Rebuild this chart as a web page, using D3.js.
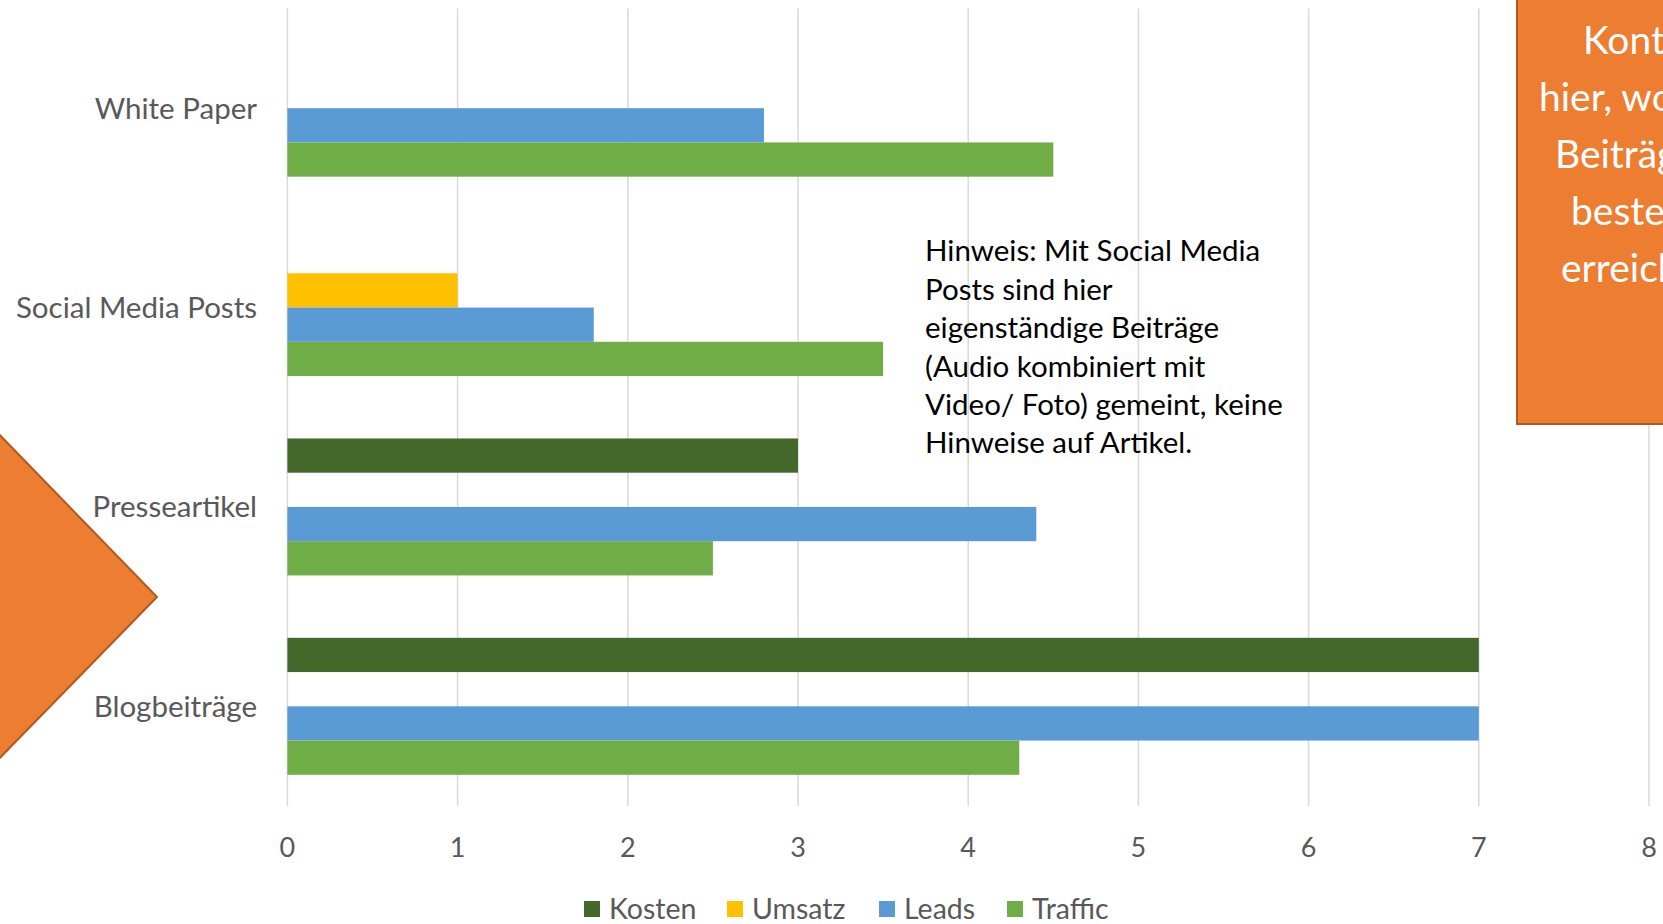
<!DOCTYPE html>
<html><head><meta charset="utf-8">
<script src="https://cdnjs.cloudflare.com/ajax/libs/d3/7.8.5/d3.min.js"></script>
<style>
html,body{margin:0;padding:0;background:#fff;overflow:hidden;}
svg{display:block;font-family:Lato,"Open Sans",sans-serif;}
</style></head>
<body><svg id="c" width="1663" height="924"></svg>
<script>
const categories = ["White Paper", "Social Media Posts", "Presseartikel", "Blogbeiträge"];
const seriesNames = ["Kosten", "Umsatz", "Leads", "Traffic"];
const kosten  = [0, 0, 3, 7];
const umsatz  = [0, 1, 0, 0];
const leads   = [2.8, 1.8, 4.4, 7];
const traffic = [4.5, 3.5, 2.5, 4.3];
const xTicks = [0, 1, 2, 3, 4, 5, 6, 7, 8];
const colors = ["#43682B", "#FFC000", "#5B9BD5", "#70AD47"];
const noteLines = ["Hinweis: Mit Social Media", "Posts sind hier", "eigenständige Beiträge", "(Audio kombiniert mit", "Video/ Foto) gemeint, keine", "Hinweise auf Artikel."];
const boxLines = ["Kontrolle", "hier, wo Ihre", "Beiträge am", "besten", "erreichen"];

const values = [kosten, umsatz, leads, traffic];
const svg = d3.select("#c");

const x = d3.scaleLinear().domain([0, 8]).range([287.4, 1649]);
const y = d3.scaleBand().domain(categories).range([8.5, 806]).paddingInner(0.313).paddingOuter(0.1565);
const yi = d3.scaleBand().domain(seriesNames).range([0, y.bandwidth()]);

// gridlines
svg.append("g").selectAll("line").data(xTicks).join("line")
  .attr("x1", d => x(d)).attr("x2", d => x(d)).attr("y1", 8.5).attr("y2", 806)
  .attr("stroke", "#D9D9D9").attr("stroke-width", 1.5);

// bars
const g = svg.append("g");
categories.forEach((c, ci) => {
  seriesNames.forEach((s, si) => {
    const v = values[si][ci];
    if (!v) return;
    g.append("rect")
      .attr("x", x(0)).attr("y", y(c) + yi(s))
      .attr("width", x(v) - x(0)).attr("height", yi.bandwidth())
      .attr("fill", colors[si]);
  });
});

// x tick labels
svg.append("g").selectAll("text").data(xTicks).join("text")
  .attr("x", d => x(d)).attr("y", 848).attr("dy", "0.35em")
  .attr("text-anchor", "middle").attr("fill", "#595959").attr("font-size", 27)
  .text(d => d);

// category labels
svg.append("g").selectAll("text").data(categories).join("text")
  .attr("x", 257).attr("y", d => y(d) + y.bandwidth() / 2).attr("dy", "0.35em")
  .attr("text-anchor", "end").attr("fill", "#595959").attr("font-size", 29.5)
  .text(d => d);

// note
noteLines.forEach((t, i) => {
  svg.append("text").attr("x", 925).attr("y", 251 + i * 38.4).attr("dy", "0.35em")
    .attr("fill", "#000").attr("font-size", 29.5).text(t);
});

// legend
const legX = [584, 727, 879, 1007];
seriesNames.forEach((s, i) => {
  svg.append("rect").attr("x", legX[i]).attr("y", 901).attr("width", 16).attr("height", 16).attr("fill", colors[i]);
  svg.append("text").attr("x", legX[i] + 25).attr("y", 909).attr("dy", "0.35em")
    .attr("fill", "#595959").attr("font-size", 28.5).text(s);
});

// decorative orange shapes (drawn over the chart)
svg.append("path")
  .attr("d", "M-10,425 L157,597 L-10,768 Z")
  .attr("fill", "#ED7D31").attr("stroke", "#AE5A21").attr("stroke-width", 2);
svg.append("rect").attr("x", 1517).attr("y", -10).attr("width", 200).attr("height", 434)
  .attr("fill", "#ED7D31").attr("stroke", "#AE5A21").attr("stroke-width", 2);
const boxX = [1583, 1539, 1555, 1571, 1561];
boxLines.forEach((t, i) => {
  svg.append("text").attr("x", boxX[i]).attr("y", 40 + i * 57)
    .attr("dy", "0.35em").attr("fill", "#fff").attr("font-size", 39).text(t);
});
</script></body></html>
